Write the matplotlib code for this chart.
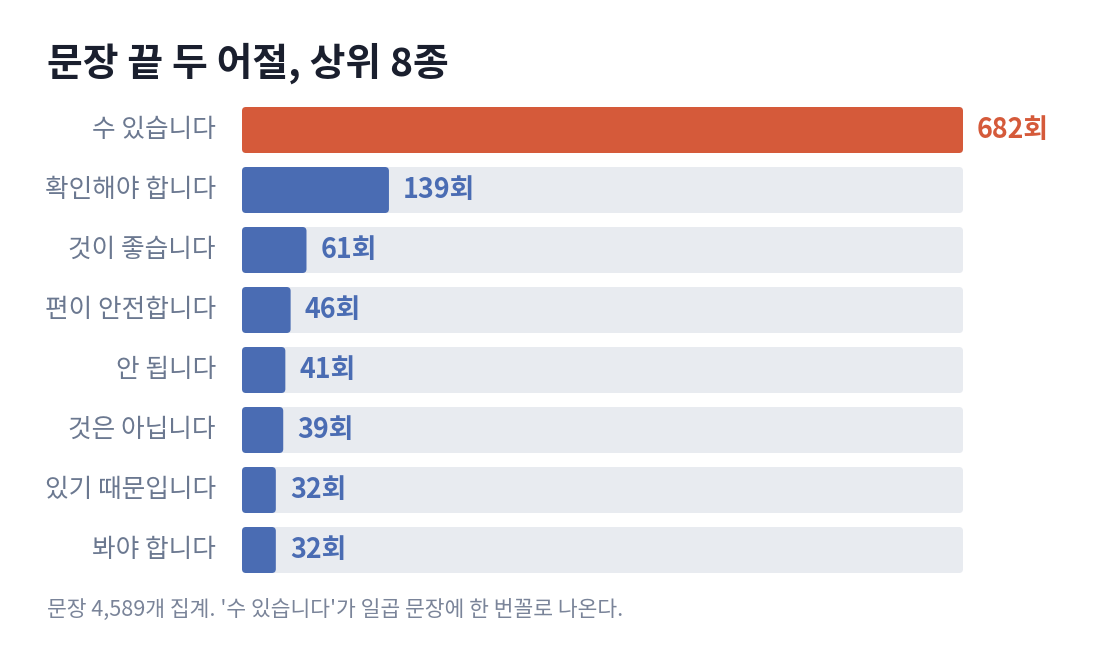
import matplotlib
matplotlib.use("Agg")
import matplotlib.pyplot as plt
from matplotlib.patches import FancyBboxPatch

plt.rcParams['font.family'] = ['Noto Sans CJK KR', 'DejaVu Sans']

# data
phrases = ["수 있습니다", "확인해야 합니다", "것이 좋습니다", "편이 안전합니다",
           "안 됩니다", "것은 아닙니다", "있기 때문입니다", "봐야 합니다"]
counts = [682, 139, 61, 46, 41, 39, 32, 32]
title = "문장 끝 두 어절, 상위 8종"
note = "문장 4,589개 집계. '수 있습니다'가 일곱 문장에 한 번꼴로 나온다."

ORANGE = "#D55A3A"
BLUE = "#4A6CB3"
TRACK = "#E8EBF0"
LABEL = "#6B7890"

W, H = 1100, 652
fig = plt.figure(figsize=(W / 100, H / 100), dpi=100)
fig.patch.set_facecolor("white")

# axes over the bar track area (pixels from top: 100..580, x 242..963)
ax = fig.add_axes([242 / W, (H - 580) / H, 721 / W, 480 / H])
xmax = max(counts)
ax.set_xlim(0, xmax)
ax.set_ylim(len(counts) - 0.5, -0.5)
ax.axis("off")

bh = 46 / 60
px_x = 721 / xmax       # pixels per x unit
r = 4 / px_x            # corner radius in x units
aspect = (4 / 60) / r

for i, (name, c) in enumerate(zip(phrases, counts)):
    track = FancyBboxPatch((0, i - bh / 2), xmax, bh,
                           boxstyle=f"round,pad=0,rounding_size={r}",
                           mutation_aspect=aspect, fc=TRACK, ec="none", zorder=1)
    ax.add_patch(track)
    col = ORANGE if i == 0 else BLUE
    bar = FancyBboxPatch((0, i - bh / 2), c, bh,
                         boxstyle=f"round,pad=0,rounding_size={r}",
                         mutation_aspect=aspect, fc=col, ec="none", zorder=2)
    ax.add_patch(bar)
    ax.annotate(name, (0, i), xytext=(-26, 0), textcoords="offset pixels",
                ha="right", va="center", fontsize=18.5, color=LABEL,
                annotation_clip=False)
    ax.annotate(f"{c}회", (c, i), xytext=(14, 0), textcoords="offset pixels",
                ha="left", va="center", fontsize=19.3, fontweight="bold",
                color=col, annotation_clip=False)

fig.text(47 / W, 1 - 63 / H, title, ha="left", va="center",
         fontsize=28, fontweight="bold", color="#1A1F2E")
fig.text(47 / W, 1 - 610 / H, note, ha="left", va="center",
         fontsize=15.5, color="#7A8499")

fig.savefig("out.png", dpi=100, facecolor="white")
